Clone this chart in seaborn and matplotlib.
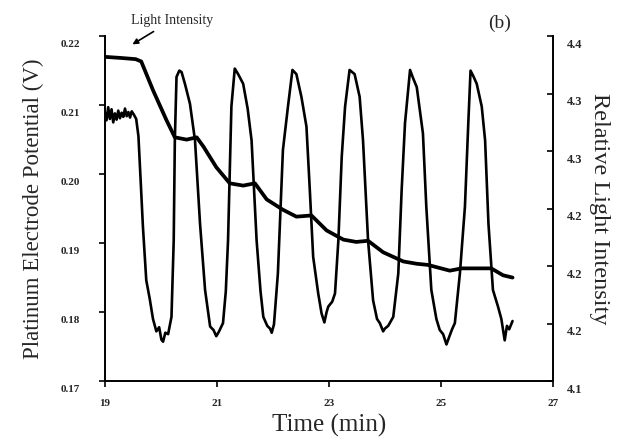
import numpy as np
import pandas as pd
import seaborn as sns
import matplotlib
matplotlib.use("Agg")
import matplotlib.pyplot as plt
from matplotlib.transforms import ScaledTranslation

# potential of the platinum electrode (left axis)
time_pt = [19.00, 19.03, 19.06, 19.09, 19.12, 19.15, 19.18, 19.21, 19.24, 19.27,
           19.30, 19.33, 19.36, 19.39, 19.42, 19.45, 19.48, 19.52, 19.56, 19.60,
           19.64, 19.68, 19.74, 19.80, 19.86, 19.92, 19.97, 20.01, 20.04, 20.08,
           20.13, 20.19, 20.23, 20.25, 20.28, 20.33, 20.37, 20.43, 20.52, 20.61,
           20.70, 20.79, 20.88, 20.94, 20.99, 21.04, 21.11, 21.16, 21.20, 21.26,
           21.32, 21.38, 21.47, 21.55, 21.62, 21.71, 21.78, 21.83, 21.90, 21.95,
           21.98, 22.02, 22.09, 22.18, 22.27, 22.35, 22.42, 22.51, 22.60, 22.66,
           22.72, 22.81, 22.87, 22.92, 22.96, 22.99, 23.06, 23.11, 23.17, 23.23,
           23.29, 23.37, 23.46, 23.55, 23.61, 23.70, 23.79, 23.86, 23.91, 23.97,
           24.00, 24.06, 24.15, 24.24, 24.30, 24.36, 24.45, 24.50, 24.57, 24.68,
           24.74, 24.83, 24.92, 24.98, 25.04, 25.10, 25.14, 25.20, 25.25, 25.34,
           25.43, 25.49, 25.53, 25.58, 25.64, 25.73, 25.79, 25.85, 25.93, 26.02,
           26.08, 26.14, 26.18, 26.22, 26.28]
potential = [0.2090, 0.2078, 0.2097, 0.2080, 0.2094, 0.2075, 0.2088, 0.2079, 0.2092, 0.2081,
             0.2089, 0.2083, 0.2095, 0.2084, 0.2090, 0.2082, 0.2091, 0.2086, 0.2080, 0.2055,
             0.1990, 0.1924, 0.1846, 0.1820, 0.1790, 0.1772, 0.1778, 0.1760, 0.1757, 0.1770,
             0.1768, 0.1793, 0.1904, 0.2049, 0.2141, 0.2150, 0.2148, 0.2131, 0.2102, 0.2049,
             0.1928, 0.1832, 0.1779, 0.1774, 0.1765, 0.1772, 0.1784, 0.1830, 0.1904, 0.2098,
             0.2153, 0.2145, 0.2131, 0.2095, 0.2049, 0.1904, 0.1830, 0.1793, 0.1780, 0.1776,
             0.1770, 0.1782, 0.1856, 0.2035, 0.2098, 0.2151, 0.2145, 0.2112, 0.2069, 0.1977,
             0.1880, 0.1827, 0.1798, 0.1785, 0.1800, 0.1808, 0.1815, 0.1827, 0.1904, 0.2025,
             0.2098, 0.2151, 0.2145, 0.2112, 0.2049, 0.1904, 0.1817, 0.1790, 0.1784, 0.1772,
             0.1776, 0.1780, 0.1793, 0.1856, 0.1977, 0.2074, 0.2151, 0.2140, 0.2126, 0.2059,
             0.1953, 0.1832, 0.1790, 0.1774, 0.1768, 0.1753, 0.1762, 0.1775, 0.1784, 0.1856,
             0.1953, 0.2074, 0.2150, 0.2142, 0.2131, 0.2098, 0.2049, 0.1928, 0.1832, 0.1808,
             0.1790, 0.1759, 0.1780, 0.1775, 0.1787]

# relative light intensity (right axis)
time_li = [19.00, 19.30, 19.55, 19.65, 19.86, 20.10, 20.25, 20.46, 20.64, 20.76,
           20.99, 21.23, 21.47, 21.68, 21.89, 22.18, 22.42, 22.69, 22.96, 23.26,
           23.49, 23.70, 23.97, 24.33, 24.57, 24.77, 25.16, 25.37, 25.90, 26.11, 26.28]
light = [4.382, 4.381, 4.380, 4.378, 4.353, 4.327, 4.312, 4.310, 4.312, 4.304,
         4.286, 4.272, 4.270, 4.272, 4.258, 4.249, 4.243, 4.244, 4.231, 4.223,
         4.221, 4.222, 4.212, 4.204, 4.202, 4.201, 4.196, 4.198, 4.198, 4.192, 4.190]

x_ticks = [19, 21, 23, 25, 27]
left_ticks = [0.17, 0.18, 0.19, 0.20, 0.21, 0.22]
right_ticks = [4.10, 4.15, 4.20, 4.25, 4.30, 4.35, 4.40]
right_labels = ["4.1", "4.2", "4.2", "4.2", "4.3", "4.3", "4.4"]

df_pt = pd.DataFrame({"Time": time_pt, "Potential": potential})
df_li = pd.DataFrame({"Time": time_li, "Light": light})

sns.set_style("ticks")
plt.rcParams['font.family'] = ['Liberation Serif', 'DejaVu Serif']

fig = plt.figure(figsize=(6.24, 4.41), dpi=100)
ax = fig.add_axes([0.168, 0.136, 0.718, 0.782])
ax2 = ax.twinx()

sns.lineplot(data=df_pt, x="Time", y="Potential", ax=ax, color="black", linewidth=1.9, estimator=None)
sns.lineplot(data=df_li, x="Time", y="Light", ax=ax2, color="black", linewidth=2.7, estimator=None)

ax.set_xlim(19, 27)
ax.set_ylim(0.17, 0.22)
ax2.set_ylim(4.1, 4.4)

ax.set_xticks(x_ticks)
ax.set_xticklabels([str(t) for t in x_ticks], fontsize=8, fontweight="bold")
ax.set_yticks(left_ticks)
ax.set_yticklabels([f"{v:.2f}" for v in left_ticks], fontsize=8, fontweight="bold")
ax2.set_yticks(right_ticks)
ax2.set_yticklabels(right_labels, fontsize=9, fontweight="bold")

ax.tick_params(axis="x", direction="out", length=4, width=1.2, color="black", pad=9)
ax.tick_params(axis="y", direction="out", length=4, width=1.2, color="black", pad=14)
ax2.tick_params(axis="y", direction="in", length=4, width=1.2, color="black", pad=10)

# the old plot puts the y tick labels a little below their ticks
shift = ScaledTranslation(0, -0.07, fig.dpi_scale_trans)
for lab in ax.get_yticklabels() + ax2.get_yticklabels():
    lab.set_transform(lab.get_transform() + shift)

for a in (ax, ax2):
    a.spines["top"].set_visible(False)
    for s in ("left", "bottom", "right"):
        a.spines[s].set_linewidth(1.4)
        a.spines[s].set_color("black")
ax.spines["right"].set_visible(False)
ax2.spines["left"].set_visible(False)
ax2.spines["bottom"].set_visible(False)

ax.set_xlabel("Time (min)", fontsize=18, labelpad=4)
ax.set_ylabel("Platinum Electrode Potential (V)", fontsize=16.5, labelpad=12)
ax2.set_ylabel("Relative Light Intensity", fontsize=17.5, rotation=270, labelpad=20)

ax.annotate("Light Intensity", xy=(19.45, 0.2186), xytext=(20.2, 0.2223),
            fontsize=10, ha="center", va="center", annotation_clip=False,
            arrowprops=dict(arrowstyle="-|>", color="black", lw=1.2, mutation_scale=8))
ax.text(26.05, 0.2219, "(b)", fontsize=14, ha="center", va="center")

fig.savefig("out.png", dpi=100)
